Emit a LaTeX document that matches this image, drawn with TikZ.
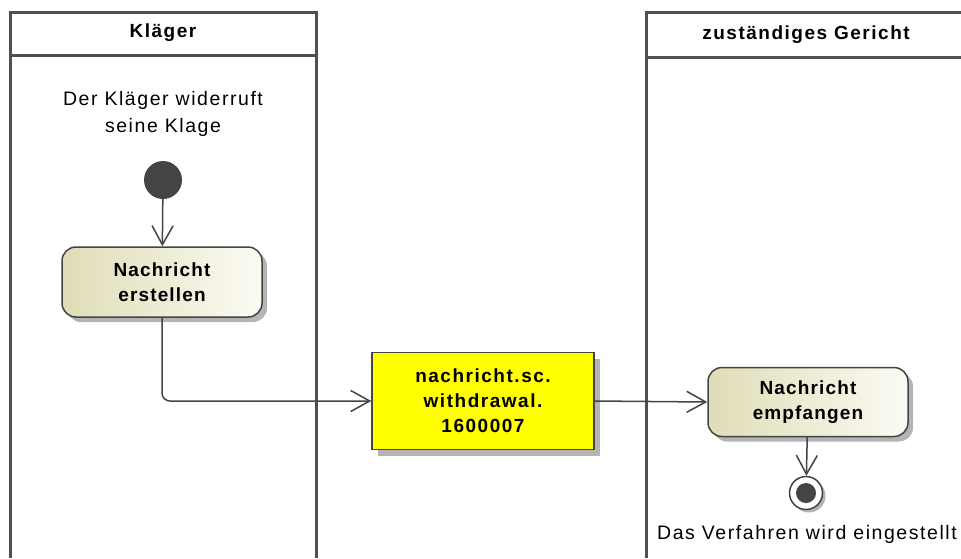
\documentclass[tikz,border=0pt]{standalone}
\usepackage{fontspec}
\setmainfont{Liberation Sans}
\newfontfamily\widefont[LetterSpace=8]{Liberation Sans}
\newfontfamily\midfont[LetterSpace=6]{Liberation Sans}
\usetikzlibrary{arrows.meta,positioning,shadows}
\definecolor{lineclr}{HTML}{444444}
\definecolor{laneclr}{HTML}{505050}
\definecolor{actleft}{HTML}{DFDDB6}
\definecolor{actright}{HTML}{FBFBF4}
\definecolor{shadowclr}{HTML}{B4B4B4}
\definecolor{objyellow}{HTML}{FFFF00}

\tikzset{
  lane/.style={draw=laneclr,line width=3pt},
  lanehead/.style={font=\widefont\bfseries\fontsize{19}{22}\selectfont},
  action/.style={draw=lineclr,line width=1.5pt,rounded corners=14pt,
    minimum width=200pt,minimum height=70pt,left color=actleft,right color=actright,
    align=center,font=\midfont\bfseries\fontsize{19}{25}\selectfont,
    drop shadow={shadow xshift=5pt,shadow yshift=-5pt,fill=shadowclr,opacity=1}},
  objnode/.style={draw=lineclr,line width=1.5pt,fill=objyellow,
    minimum width=222pt,minimum height=97pt,
    align=center,font=\widefont\bfseries\fontsize{19}{25}\selectfont,
    drop shadow={shadow xshift=6pt,shadow yshift=-6pt,fill=shadowclr,opacity=1}},
  flow/.style={draw=lineclr,line width=1.5pt,-{Straight Barb[length=19pt,width=21pt,line width=1.5pt]}},
  note/.style={align=center,font=\widefont\fontsize{19.5}{27}\selectfont}
}

\begin{document}
\begin{tikzpicture}[x=1pt,y=1pt]
\useasboundingbox (0,0) rectangle (961,-558);
% swimlanes
\draw[lane] (10,-558) -- (10,-12) -- (316,-12) -- (316,-558);
\draw[lane] (10,-55) -- (316,-55);
\draw[lane] (646,-558) -- (646,-12) -- (961,-12);
\draw[lane] (646,-57) -- (961,-57);
\node[lanehead] (klaeger) at (163,-33) {Kläger};
\node[lanehead] (gericht) at (806,-35) {zuständiges Gericht};

% nodes
\node[note] (starttext) at (163,-114) {Der Kläger widerruft\\seine Klage};
\node[circle,fill=lineclr,minimum size=38pt,inner sep=0pt] (start) at (163,-180) {};
\node[action] (erstellen) at (162,-282) {Nachricht\\erstellen};
\node[objnode] (nachricht) at (483,-401) {nachricht.sc.\\withdrawal.\\1600007};
\node[action,minimum height=69pt] (empfangen) at (808,-402) {Nachricht\\empfangen};
\node[circle,draw=lineclr,line width=1.5pt,fill=white,minimum size=33pt,inner sep=0pt,
  drop shadow={shadow xshift=3pt,shadow yshift=-3pt,fill=shadowclr,opacity=1}] (ende) at (806,-493) {};
\fill[lineclr] (ende) circle (10pt);
\node[note] (endtext) at (807,-534) {Das Verfahren wird eingestellt};

% connectors
\draw[flow] (start) -- (erstellen);
\draw[flow,rounded corners=8pt] (erstellen.south) |- (nachricht.west);
\draw[flow] (nachricht.east) -- (empfangen.west);
\draw[flow] (empfangen) -- (ende);
\end{tikzpicture}
\end{document}
